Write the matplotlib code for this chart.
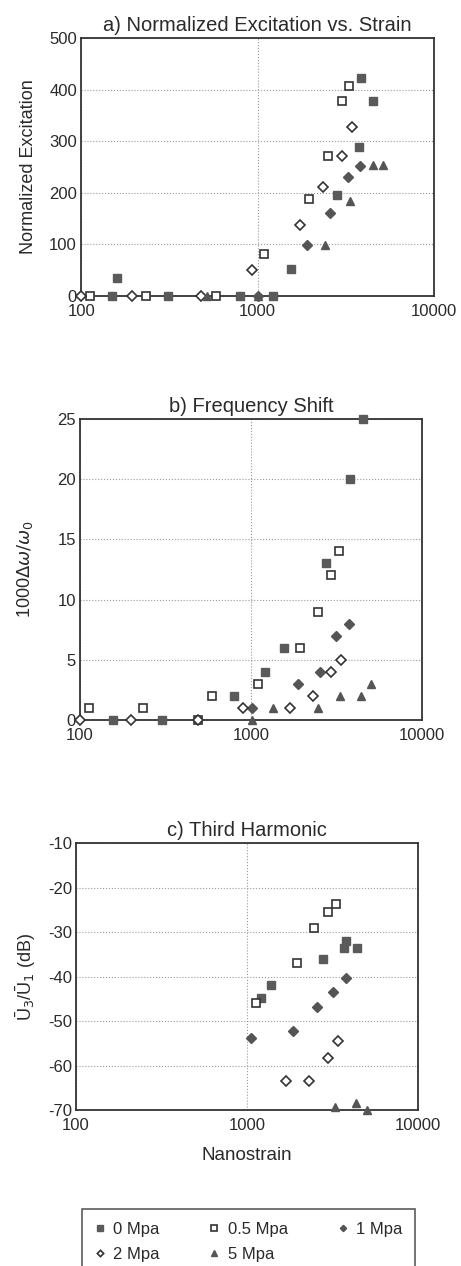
import matplotlib
matplotlib.use('Agg')
import matplotlib.pyplot as plt
import numpy as np
from matplotlib.ticker import FixedLocator, FixedFormatter

plt.rcParams['font.family'] = ['Liberation Sans', 'DejaVu Sans']
plt.rcParams['axes.unicode_minus'] = False

series_names = ['0 Mpa', '0.5 Mpa', '1 Mpa', '2 Mpa', '5 Mpa']

# a) Normalized excitation vs strain
a_x = {
    '0 Mpa':   [150, 160, 310, 790, 1215, 1550, 2800, 3770, 3870, 4520],
    '0.5 Mpa': [112, 233, 580, 1090, 1940, 2490, 3020, 3270],
    '1 Mpa':   [1010, 1890, 2570, 3240, 3800],
    '2 Mpa':   [100, 195, 480, 925, 1730, 2330, 2990, 3440],
    '5 Mpa':   [515, 1010, 2400, 3350, 4470, 5130],
}
a_y = {
    '0 Mpa':   [0, 35, 0, 0, 0, 52, 196, 289, 422, 378],
    '0.5 Mpa': [0, 0, 0, 81, 188, 271, 378, 407],
    '1 Mpa':   [0, 99, 161, 231, 252],
    '2 Mpa':   [0, 0, 0, 50, 138, 211, 271, 327],
    '5 Mpa':   [0, 0, 99, 184, 254, 254],
}

# b) Frequency shift
b_x = {
    '0 Mpa':   [155, 300, 800, 1200, 1550, 2750, 3800, 4520],
    '0.5 Mpa': [113, 235, 490, 590, 1100, 1940, 2450, 2950, 3270],
    '1 Mpa':   [1020, 1870, 2530, 3160, 3720],
    '2 Mpa':   [100, 200, 490, 900, 1700, 2300, 2930, 3380],
    '5 Mpa':   [1010, 1340, 2450, 3300, 4380, 5000],
}
b_y = {
    '0 Mpa':   [0, 0, 2, 4, 6, 13, 20, 25],
    '0.5 Mpa': [1, 1, 0, 2, 3, 6, 9, 12, 14],
    '1 Mpa':   [1, 3, 4, 7, 8],
    '2 Mpa':   [0, 0, 0, 1, 1, 2, 4, 5],
    '5 Mpa':   [0, 1, 1, 2, 2, 3],
}

# c) Third harmonic
c_x = {
    '0 Mpa':   [1210, 1380, 2770, 3700, 3800, 4370],
    '0.5 Mpa': [1120, 1950, 2450, 2960, 3310],
    '1 Mpa':   [1050, 1860, 2560, 3180, 3800],
    '2 Mpa':   [1690, 2300, 2960, 3380],
    '5 Mpa':   [3260, 4350, 5000],
}
c_y = {
    '0 Mpa':   [-44.9, -41.9, -36, -33.6, -32, -33.6],
    '0.5 Mpa': [-46, -37, -29.1, -25.5, -23.7],
    '1 Mpa':   [-53.8, -52.2, -46.9, -43.5, -40.3],
    '2 Mpa':   [-63.5, -63.5, -58.3, -54.5],
    '5 Mpa':   [-69.3, -68.4, -70],
}

txt = '#2a2a2a'
styles = {
    '0 Mpa':   dict(marker='s', ms=6.2, mfc='#5a5a5a', mec='#5a5a5a', mew=1),
    '0.5 Mpa': dict(marker='s', ms=6.2, mfc='white', mec='#333333', mew=1.2),
    '1 Mpa':   dict(marker='D', ms=4.6, mfc='#555555', mec='#555555', mew=1),
    '2 Mpa':   dict(marker='D', ms=4.6, mfc='white', mec='#333333', mew=1.2),
    '5 Mpa':   dict(marker='^', ms=5.5, mfc='#555555', mec='#555555', mew=1),
}

fig = plt.figure(figsize=(4.61, 12.66), dpi=100)

panels = [
    ([0.176, 0.7662, 0.766, 0.2038], a_x, a_y, 'a) Normalized Excitation vs. Strain',
     'Normalized Excitation', (0, 500), np.arange(0, 501, 100), False, 9),
    ([0.1735, 0.4313, 0.742, 0.2378], b_x, b_y, 'b) Frequency Shift',
     '1000$\\Delta\\omega/\\omega_0$', (0, 25), np.arange(0, 26, 5), False, 16),
    ([0.165, 0.1232, 0.742, 0.2109], c_x, c_y, 'c) Third Harmonic',
     'Ū$_3$/Ū$_1$ (dB)', (-70, -10), np.arange(-70, -9, 10), True, 8),
]

handles = {}
for rect, xs, ys, title, ylabel, ylim, yticks, show_xlabel, lpad in panels:
    ax = fig.add_axes(rect)
    for name in series_names:
        h, = ax.plot(xs[name], ys[name], linestyle='none', clip_on=False,
                     zorder=3, **styles[name])
        handles[name] = h
    ax.set_xscale('log')
    ax.set_xlim(100, 10000)
    ax.set_ylim(*ylim)
    ax.xaxis.set_major_locator(FixedLocator([100, 1000, 10000]))
    ax.xaxis.set_major_formatter(FixedFormatter(['100', '1000', '10000']))
    ax.xaxis.set_minor_locator(FixedLocator([]))
    ax.set_yticks(yticks)
    ax.tick_params(length=0, labelsize=12, colors=txt)
    ax.tick_params(axis='x', pad=6)
    ax.tick_params(axis='y', pad=3)
    ax.grid(True, linestyle=':', color='#999999', linewidth=0.8)
    ax.set_axisbelow(True)
    for s in ax.spines.values():
        s.set_color('#333333')
        s.set_linewidth(1.3)
    ax.set_title(title, fontsize=14.5, color=txt, pad=5)
    ax.set_ylabel(ylabel, fontsize=13, color=txt, labelpad=lpad)
    if show_xlabel:
        ax.set_xlabel('Nanostrain', fontsize=13.5, color=txt, labelpad=10)

order = ['0 Mpa', '2 Mpa', '0.5 Mpa', '5 Mpa', '1 Mpa']
leg = fig.legend([handles[n] for n in order], order, ncol=3,
                 loc='upper left', bbox_to_anchor=(0.178, 0.045, 0.722, 0.0),
                 mode='expand', borderaxespad=0, fontsize=12, frameon=True,
                 fancybox=False, handlelength=0.6, handletextpad=0.5,
                 columnspacing=1.0, borderpad=0.75, labelspacing=0.6,
                 markerscale=0.7, labelcolor=txt)
leg.get_frame().set_edgecolor('#333333')
leg.get_frame().set_linewidth(1.2)

fig.savefig('out.png', dpi=100)
